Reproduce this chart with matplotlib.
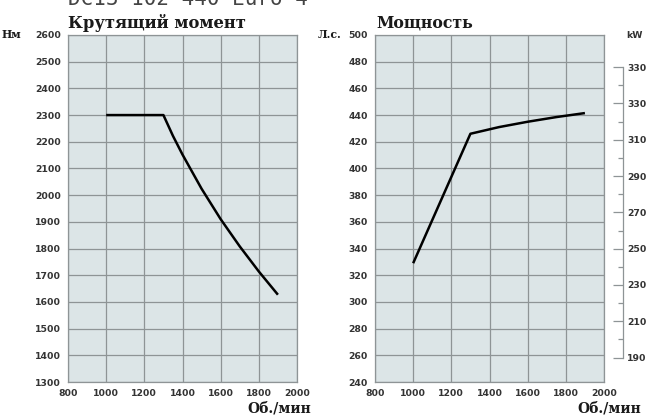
import matplotlib
matplotlib.use("Agg")
import matplotlib.pyplot as plt
from matplotlib.ticker import MultipleLocator, FixedLocator, FixedFormatter

# Torque curve (Nm vs rpm)
torque_rpm = [1000, 1100, 1200, 1300, 1350, 1400, 1500, 1600, 1700, 1800, 1900]
torque_nm = [2300, 2300, 2300, 2300, 2222, 2152, 2024, 1910, 1808, 1714, 1627]

# Power curve (hp vs rpm)
power_rpm = [1000, 1300, 1450, 1600, 1750, 1900]
power_hp = [329, 426, 431, 435, 438.5, 441.5]

# kW scale ticks (the top label reads 330 in the original)
kw_ticks = [190, 210, 230, 250, 270, 290, 310, 330, 350]
kw_labels = ['190', '210', '230', '250', '270', '290', '310', '330', '330']
HP_PER_KW = 1.35962

W, H = 647, 416
BG = '#dce5e7'
GRID = '#8e9496'
TXT = '#333333'
TICK_FONT = dict(family='DejaVu Sans', weight='bold', size=6.7)
SERIF = dict(family='DejaVu Serif', weight='bold')


def fx(px):
    return px / W


def fy(py):
    return 1 - py / H


def style_axes(ax, ylim, ystep):
    ax.set_facecolor(BG)
    ax.set_xlim(800, 2000)
    ax.set_ylim(*ylim)
    ax.xaxis.set_major_locator(MultipleLocator(200))
    ax.yaxis.set_major_locator(MultipleLocator(ystep))
    ax.grid(True, color=GRID, linewidth=0.9)
    ax.set_axisbelow(True)
    for s in ax.spines.values():
        s.set_color(GRID)
        s.set_linewidth(0.9)
    ax.tick_params(length=0, pad=5, colors=TXT)
    for lab in ax.get_xticklabels() + ax.get_yticklabels():
        lab.set_fontfamily(TICK_FONT['family'])
        lab.set_fontweight(TICK_FONT['weight'])
        lab.set_fontsize(TICK_FONT['size'])


fig = plt.figure(figsize=(W / 100, H / 100), dpi=100)

ax_t = fig.add_axes([fx(68), fy(382), fx(297) - fx(68), fy(35) - fy(382)])
ax_p = fig.add_axes([fx(375), fy(382), fx(604) - fx(375), fy(35) - fy(382)])

style_axes(ax_t, (1300, 2600), 100)
style_axes(ax_p, (240, 500), 20)

ax_t.plot(torque_rpm, torque_nm, color='black', linewidth=1.8, solid_capstyle='butt')
ax_p.plot(power_rpm, power_hp, color='black', linewidth=1.8, solid_capstyle='butt')

# kW scale next to the power chart
ax_kw = ax_p.twinx()
ax_kw.set_ylim(240 / HP_PER_KW, 500 / HP_PER_KW)
for side in ['left', 'top', 'bottom']:
    ax_kw.spines[side].set_visible(False)
ax_kw.spines['right'].set_position(('outward', 13.5))
ax_kw.spines['right'].set_bounds(190, 350)
ax_kw.spines['right'].set_color(GRID)
ax_kw.spines['right'].set_linewidth(0.9)
ax_kw.yaxis.set_major_locator(FixedLocator(kw_ticks))
ax_kw.yaxis.set_major_formatter(FixedFormatter(kw_labels))
ax_kw.yaxis.set_minor_locator(FixedLocator([t + 10 for t in kw_ticks[:-1]]))
ax_kw.tick_params(axis='y', which='major', direction='in', length=7.5, width=0.9,
                  color=GRID, pad=3, labelcolor=TXT)
ax_kw.tick_params(axis='y', which='minor', direction='in', length=3.6, width=0.9,
                  color=GRID)
for lab in ax_kw.get_yticklabels():
    lab.set_fontfamily(TICK_FONT['family'])
    lab.set_fontweight(TICK_FONT['weight'])
    lab.set_fontsize(TICK_FONT['size'])

# titles and unit labels
fig.text(fx(68), fy(28), 'Крутящий момент', fontsize=11.8, color='#1a1a1a',
         ha='left', va='baseline', **SERIF)
fig.text(fx(376), fy(28), 'Мощность', fontsize=11.3, color='#1a1a1a',
         ha='left', va='baseline', **SERIF)
fig.text(fx(2), fy(35), 'Нм', fontsize=7.8, color='#1a1a1a', ha='left', va='center', **SERIF)
fig.text(fx(318), fy(35), 'Л.с.', fontsize=7.8, color='#1a1a1a', ha='left', va='center', **SERIF)
fig.text(fx(626), fy(35), 'kW', fontsize=6.7, color=TXT, ha='left', va='center',
         family='DejaVu Sans', weight='bold')
fig.text(fx(311), fy(408), 'Об./мин', fontsize=10, color='#1a1a1a', ha='right', va='center', **SERIF)
fig.text(fx(641), fy(408), 'Об./мин', fontsize=10, color='#1a1a1a', ha='right', va='center', **SERIF)

# engine name, cut off at the top edge
fig.text(fx(68), fy(5), 'DC13 102 440 Euro 4', fontsize=15, color='#444444',
         ha='left', va='baseline', family='DejaVu Sans Mono')

fig.savefig('out.png', dpi=100, facecolor='white')
